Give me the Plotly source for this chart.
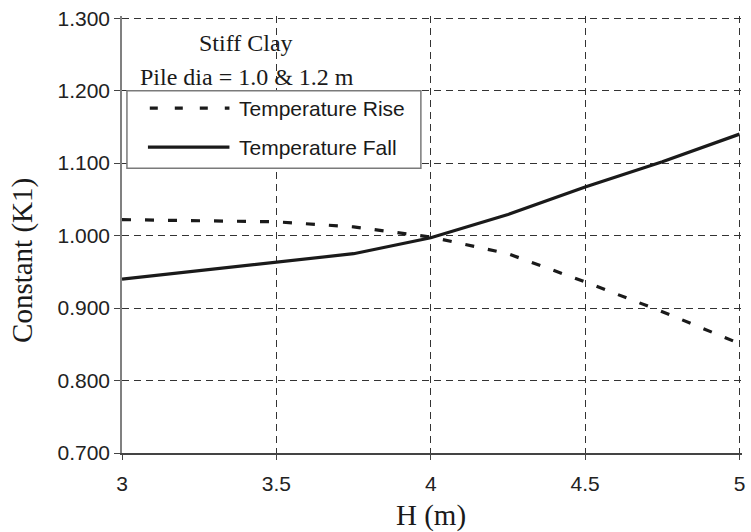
import plotly.graph_objects as go

# Excavation depth H (m)
depth_m = [3.0, 3.25, 3.5, 3.75, 4.0, 4.25, 4.5, 4.75, 5.0]
# Constant K1 for the two thermal load cases
k1_temperature_rise = [1.022, 1.021, 1.019, 1.012, 0.998, 0.975, 0.936, 0.895, 0.851]
k1_temperature_fall = [0.940, 0.952, 0.963, 0.975, 0.997, 1.029, 1.067, 1.102, 1.140]

y_ticks = [0.7, 0.8, 0.9, 1.0, 1.1, 1.2, 1.3]
x_ticks = [3, 3.5, 4, 4.5, 5]

series_names = ["Temperature Rise", "Temperature Fall"]
note_lines = ["Stiff Clay", "Pile dia = 1.0 & 1.2 m"]

SANS = "Liberation Sans, Arial, sans-serif"
SERIF = "Liberation Serif, Times New Roman, serif"
INK = "#1a1a1a"

fig = go.Figure()
fig.add_trace(go.Scatter(
    x=depth_m, y=k1_temperature_rise, mode="lines", name=series_names[0],
    line=dict(color=INK, width=3.2, dash="9px,14px"), showlegend=False,
))
fig.add_trace(go.Scatter(
    x=depth_m, y=k1_temperature_fall, mode="lines", name=series_names[1],
    line=dict(color=INK, width=3.2), showlegend=False,
))

# Legend box with its own line samples
shapes = [
    dict(type="rect", xref="x", yref="y", x0=3.016, x1=3.968, y0=1.093, y1=1.2,
         line=dict(color="#7a7a7a", width=1.5), fillcolor="white", layer="above"),
    dict(type="line", xref="x", yref="y", x0=3.090, x1=3.348, y0=1.176, y1=1.176,
         line=dict(color=INK, width=3.2, dash="8px,17px"), layer="above"),
    dict(type="line", xref="x", yref="y", x0=3.084, x1=3.348, y0=1.122, y1=1.122,
         line=dict(color=INK, width=3.2), layer="above"),
]

annotations = [
    dict(xref="x", yref="y", x=3.374, y=1.176, text=series_names[0], showarrow=False,
         xanchor="left", yanchor="middle", font=dict(family=SANS, size=21, color=INK)),
    dict(xref="x", yref="y", x=3.374, y=1.122, text=series_names[1], showarrow=False,
         xanchor="left", yanchor="middle", font=dict(family=SANS, size=21, color=INK)),
    dict(xref="x", yref="y", x=3.403, y=1.2655, text=note_lines[0], showarrow=False,
         xanchor="center", yanchor="middle", font=dict(family=SERIF, size=24, color=INK)),
    dict(xref="x", yref="y", x=3.406, y=1.2186, text=note_lines[1], showarrow=False,
         xanchor="center", yanchor="middle", font=dict(family=SERIF, size=24, color=INK)),
    # axis titles
    dict(xref="paper", yref="y", x=0, xshift=-99, y=0.965, text="Constant (K1)",
         textangle=-90, showarrow=False, xanchor="center", yanchor="middle",
         font=dict(family=SERIF, size=29, color=INK)),
    dict(xref="x", yref="paper", x=4.0, y=0, yshift=-62, text="H (m)",
         showarrow=False, xanchor="center", yanchor="middle",
         font=dict(family=SERIF, size=29, color=INK)),
]

grid_style = dict(showgrid=True, gridcolor="#333333", gridwidth=1, griddash="7px,5px",
                  zeroline=False, ticks="outside", tickcolor="#444444",
                  tickfont=dict(family=SANS, size=21, color="#222222"))

fig.update_layout(
    width=751, height=532,
    margin=dict(l=122, r=6, t=16, b=79),
    paper_bgcolor="white", plot_bgcolor="white",
    xaxis=dict(range=[3, 5.008], tickvals=x_ticks, ticktext=[f"{v:g}" for v in x_ticks],
               showline=True, linecolor="#444444", linewidth=1.5, ticklen=5,
               ticklabelstandoff=6, **grid_style),
    yaxis=dict(range=[0.7, 1.303], tickvals=y_ticks, ticktext=[f"{v:.3f}" for v in y_ticks],
               showline=True, linecolor="#808080", linewidth=1.5, ticklen=6,
               **grid_style),
    shapes=shapes,
    annotations=annotations,
)

fig.write_html("out.html")
